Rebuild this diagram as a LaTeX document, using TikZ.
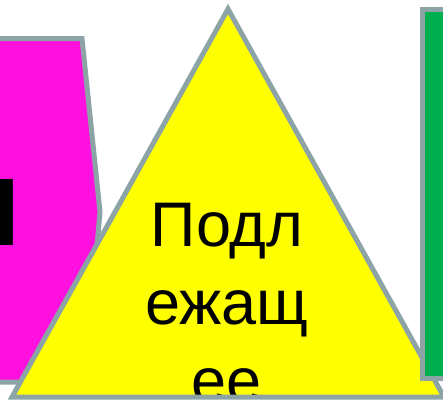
\documentclass[tikz,border=0pt]{standalone}
\usepackage{fontspec}
\setmainfont{Liberation Sans}
\usepackage{xcolor}
\usepackage{tikz}
\usetikzlibrary{positioning}
\definecolor{shedge}{RGB}{140,164,166}
\definecolor{shmag}{RGB}{255,16,222}
\definecolor{shyel}{RGB}{255,255,0}
\definecolor{shgrn}{RGB}{0,176,80}
\tikzset{
  figbox/.style={draw=shedge, line width=5pt, line join=miter},
  mag/.style={figbox, fill=shmag},
  grn/.style={figbox, fill=shgrn},
  word/.style={inner sep=0pt, align=center, text=black,
    font=\fontsize{63}{78}\selectfont},
  cut/.style={inner sep=0pt, text=black,
    font=\bfseries\fontsize{96}{96}\selectfont}
}
\begin{document}
\begin{tikzpicture}[x=1pt, y=-1pt]
  \useasboundingbox (0,0) rectangle (443,402);
  % left shape
  \draw[mag] (-20,38.5) -- (82,38.5) -- (100,212) -- (85,382) -- (-20,382) -- cycle;
  \node[cut, anchor=base west] (pred) at (-50,245) {Н};
  % middle triangle, outline drawn over the text
  \fill[shyel] (228,9) -- (444,397) -- (12,397) -- cycle;
  \begin{scope}
    \clip (0,0) rectangle (443,395);
    \node[word, anchor=base] (subj) at (227,402) {Подл\\ежащ\\ее};
  \end{scope}
  \draw[figbox] (228,9) -- (444,397) -- (12,397) -- cycle;
  % right shape
  \draw[grn] (422.5,9.5) rectangle (470,378.5);
\end{tikzpicture}
\end{document}
